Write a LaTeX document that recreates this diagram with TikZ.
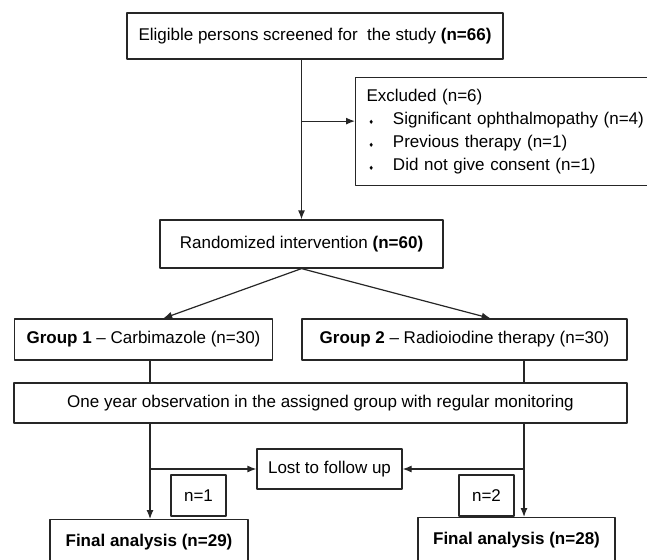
\documentclass[tikz,border=0pt]{standalone}
\usepackage{fontspec}
\setmainfont{Liberation Sans}
\newfontfamily\symfont{DejaVu Sans}
\usetikzlibrary{positioning,calc,arrows.meta}
\newcommand{\dmd}{\hspace*{2pt}{\symfont\fontsize{6}{6}\selectfont ♦}\hspace{19pt}}
\begin{document}
\begin{tikzpicture}[x=1pt, y=-1pt, line join=round, >={Latex[length=9pt,width=7pt]}, font=\fontsize{17}{20}\selectfont,
	box/.style={draw=black!85, line width=1.2pt, inner sep=0pt, align=center},
	link/.style={draw=black!85, line width=1.2pt}]
	\useasboundingbox (0,0) rectangle (647,559);
	%\draw[gray!40] (0,0) grid[step=50] (647,559);
	\node[box, minimum width=376pt, minimum height=46pt] (screen) at (315,36) {Eligible persons screened for\ \ the study \textbf{(n=66)}};
	\node[box, anchor=north west, text width=288pt, minimum height=108pt, align=left, inner xsep=11pt, font=\fontsize{17}{22.7}\selectfont] (excl) at (355,77)
	{Excluded (n=6)\\ \dmd Significant ophthalmopathy (n=4)\\ \dmd Previous therapy (n=1)\\ \dmd Did not give consent (n=1)};
	\node[box, minimum width=283pt, minimum height=48pt] (rand) at (301.5,244) {Randomized intervention \textbf{(n=60)}};
	\node[box, minimum width=258pt, minimum height=41pt] (grpA) at (143.5,339.5) {\textbf{Group 1} -- Carbimazole (n=30)};
	\node[box, minimum width=325pt, minimum height=41pt] (grpB) at (464.5,339.5) {\textbf{Group 2} -- Radioiodine therapy (n=30)};
	\node[box, minimum width=613pt, minimum height=40pt] (obs) at (320.5,403) {One year observation in the assigned group with regular monitoring};
	\node[box, minimum width=145pt, minimum height=40pt] (lost) at (329.5,469) {Lost to follow up};
	\node[box, minimum width=55pt, minimum height=41pt] (nA) at (198.5,495.5) {n=1};
	\node[box, minimum width=55pt, minimum height=41pt] (nB) at (486.5,495.5) {n=2};
	\node[box, anchor=north, minimum width=198pt, text height=27pt, text depth=40pt] (finA) at (149,519) {\textbf{Final analysis (n=29)}};
	\node[box, anchor=north, minimum width=197pt, text height=27pt, text depth=40pt] (finB) at (516.5,517) {\textbf{Final analysis (n=28)}};
	% connectors
	\coordinate (split) at ($(screen.south -| rand.north)!0.385!(rand.north)$);
	\coordinate (colA) at (150,0);
	\coordinate (colB) at (524,0);
	\draw[link,->] (screen.south -| rand.north) -- (rand.north);
	\draw[link,->] (split) -- (split -| excl.west);
	\draw[link,->] (rand.south) -- ($(grpA.north west)!0.576!(grpA.north east)$);
	\draw[link,->] (rand.south) -- ($(grpB.north west)!0.58!(grpB.north east)$);
	\draw[link] (grpA.south -| colA) -- (obs.north -| colA);
	\draw[link] (grpB.south -| colB) -- (obs.north -| colB);
	\draw[link,->] (obs.south -| colA) -- (finA.north -| colA);
	\draw[link,->] (obs.south -| colB) -- (finB.north -| colB);
	\draw[link,->] (lost.west -| colA) -- (lost.west);
	\draw[link,->] (lost.east -| colB) -- (lost.east);
\end{tikzpicture}
\end{document}
